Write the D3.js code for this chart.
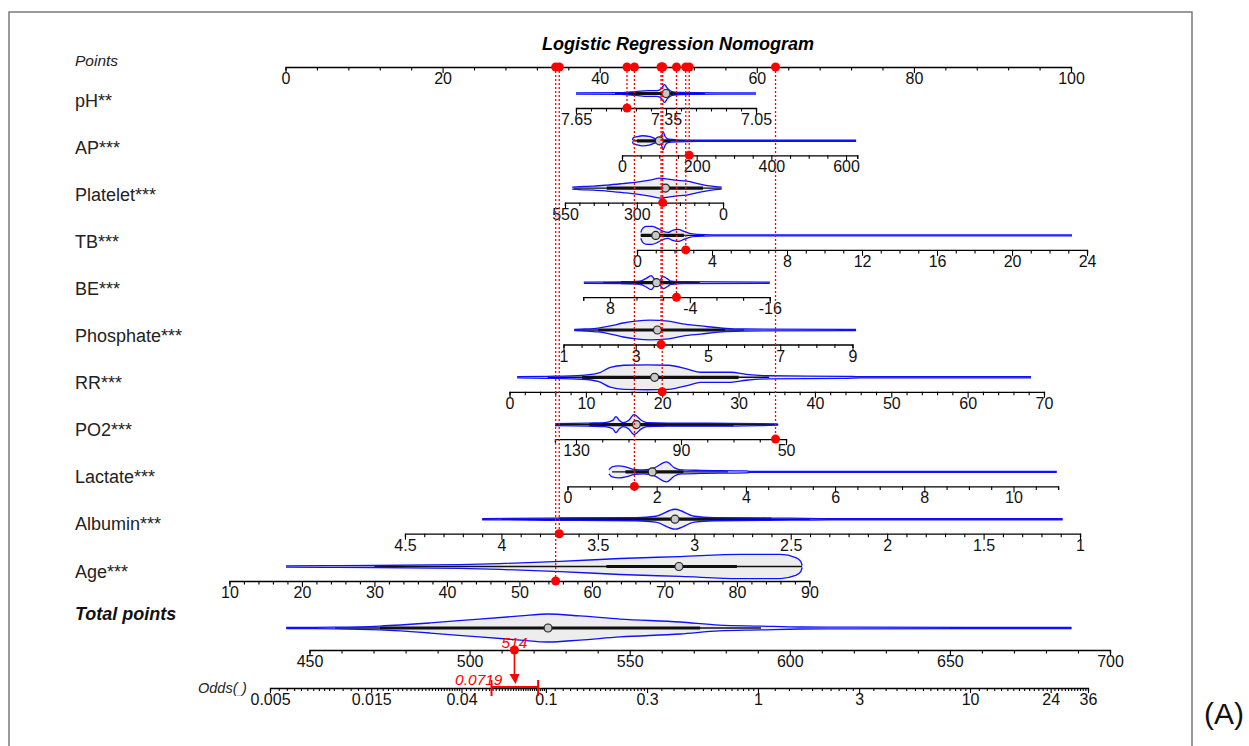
<!DOCTYPE html>
<html>
<head>
<meta charset="utf-8">
<script src="https://cdn.jsdelivr.net/npm/d3@7"></script>
<style>
  body { margin: 0; background: #fff; }
  text { font-family: Arial, "Liberation Sans", sans-serif; }
</style>
</head>
<body>
<svg id="chart" width="1249" height="746"></svg>
<script>
// nomogram model
const variables = ["pH**", "AP***", "Platelet***", "TB***", "BE***", "Phosphate***", "RR***", "PO2***", "Lactate***", "Albumin***", "Age***"];
const axisAnchors = [[7.65, 7.05], [0, 600], [550, 0], [0, 24], [8, -16], [1, 9], [0, 70], [130, 50], [0, 10], [4.5, 1], [10, 90]];
const anchorPoints = [[36.98, 59.90], [42.84, 71.36], [35.58, 55.70], [44.75, 102.04], [41.29, 61.65], [35.39, 72.18], [28.52, 96.56], [36.98, 63.72], [35.90, 92.68], [15.21, 101.15], [-7.14, 66.70]];
const axisDomains = [[7.65, 7.05], [0, 630], [550, 0], [0, 24], [12, -16], [1, 9], [0, 70], [138, 50], [0, 11], [4.5, 1], [10, 90]];
const tickSteps = [0.05, 50, 50, 1, 4, 0.5, 2, 10, 0.5, 0.1, 2];
const tickLabels = [
  [7.65, 7.35, 7.05], [0, 200, 400, 600], [550, 300, 0], [0, 4, 8, 12, 16, 20, 24], [8, -4, -16],
  [1, 3, 5, 7, 9], [0, 10, 20, 30, 40, 50, 60, 70], [130, 90, 50], [0, 2, 4, 6, 8, 10],
  [4.5, 4, 3.5, 3, 2.5, 2, 1.5, 1], [10, 20, 30, 40, 50, 60, 70, 80, 90]
];
const patientValues = [7.48, 180, 210, 2.6, -2, 3.7, 20, 54, 1.5, 3.7, 55];

// violin profiles: [value, relative density]
const violins = [
  [[7.65,.04],[7.50,.06],[7.45,.14],[7.41,.21],[7.38,.21],[7.365,.36],[7.355,.64],[7.345,.36],[7.33,.14],[7.30,.07],[7.25,.06],[7.05,.04]],
  [[28,.04],[30,.21],[40,.29],[55,.36],[75,.29],[92,.14],[105,.29],[110,.64],[116,.29],[125,.11],[150,.07],[200,.04],[627,.04]],
  [[525,.07],[500,.11],[450,.14],[405,.21],[350,.32],[300,.43],[255,.57],[220,.71],[190,.64],[167,.57],[126,.5],[80,.29],[40,.14],[5,.07]],
  [[0.2,.21],[0.3,.5],[0.5,.64],[0.8,.64],[1.1,.5],[1.4,.29],[1.65,.21],[1.9,.36],[2.2,.43],[2.5,.29],[2.8,.14],[3.2,.07],[4,.04],[23.2,.04]],
  [[11.9,.04],[6,.06],[3.5,.11],[2.6,.29],[1.8,.5],[1.2,.21],[0.6,.14],[0,.43],[-0.6,.29],[-1.2,.11],[-3,.07],[-16,.04]],
  [[1.3,.04],[1.6,.07],[1.96,.14],[2.3,.29],[2.65,.5],[3.0,.64],[3.4,.71],[3.9,.64],[4.3,.43],[4.8,.29],[5.5,.11],[6,.07],[9.1,.04]],
  [[1,.04],[5,.07],[9.5,.14],[11.6,.29],[13.2,.71],[15,.86],[18,.89],[20.8,.86],[23.4,.57],[25,.36],[29,.36],[31,.21],[34,.11],[44,.07],[46,.04],[68.3,.04]],
  [[138,.07],[125,.11],[119,.14],[116,.3],[114.8,.57],[113.5,.3],[112,.14],[110,.29],[107.9,.71],[105,.29],[103,.14],[95,.11],[80,.11],[60,.07],[53,.04]],
  [[0.93,.14],[1.0,.36],[1.15,.43],[1.3,.36],[1.5,.18],[1.7,.14],[1.95,.29],[2.22,.71],[2.4,.29],[2.55,.14],[3,.11],[4,.07],[4.1,.04],[10.97,.04]],
  [[4.1,.04],[3.6,.09],[3.3,.11],[3.2,.21],[3.1,.71],[3.0,.21],[2.9,.11],[2.5,.07],[2.3,.04],[1.09,.04]],
  [[17.8,.04],[24,.06],[30,.07],[37.7,.11],[41.8,.14],[47.3,.21],[55.6,.36],[63.9,.57],[72.2,.71],[80.4,.86],[86,.86],[88.1,.64],[88.8,.36],[89,.07]]
];
// [whisker lo, box lo, median, box hi, whisker hi]
const boxStats = [
  [7.52, 7.49, 7.35, 7.27, 7.22], [30, 40, 100, 130, 200], [520, 405, 200, 70, 5], [0.2, 0.2, 1.0, 2.5, 3.6],
  [9, 6.3, 1.0, -2, -5.5], [1.3, 1.96, 3.6, 5.47, 6.0], [5, 9.5, 19, 30, 34], [138, 125, 107, 70, 53],
  [1.0, 1.3, 1.9, 2.6, 3.6], [4.0, 3.7, 3.1, 2.6, 2.4], [30, 62, 72, 80, 89]
];

const totalDomain = [450, 700];
const totalViolin = [[442.7,.04],[458,.06],[472,.14],[487.7,.36],[503,.64],[515.8,.86],[524.5,1],[534.5,.86],[547,.64],[565.8,.43],[578,.21],[590.8,.14],[603,.07],[620,.06],[688,.04]];
const totalBox = [458, 472, 524.5, 572, 591];
const totalPoints = 514;

const oddsDomain = [0.005, 36];
const oddsLabels = [0.005, 0.015, 0.04, 0.1, 0.3, 1, 3, 10, 24, 36];
const oddsTickSteps = [[0.005, 0.01, 0.0005], [0.01, 0.04, 0.001], [0.04, 0.1, 0.002], [0.1, 0.3, 0.01], [0.3, 1, 0.05], [1, 3, 0.2], [3, 10, 0.5], [10, 36, 1]];
const oddsValue = 0.0719;
const oddsCI = [0.0554, 0.0919];

const svg = d3.select("#chart");
const red = "#ff0000", blue = "#1010ff";

svg.append("rect").attr("x", 9).attr("y", 12).attr("width", 1183).attr("height", 760)
  .attr("fill", "none").attr("stroke", "#666").attr("stroke-width", 1.3);

const ptsX = d3.scaleLinear().domain([0, 100]).range([285.5, 1071]);
const density = d3.scaleLinear().domain([0, 1]).range([0, 14]);
const rowY = i => 100 + 47.1 * i;
const axisY = i => 108 + 47.3 * i;
const round = v => +v.toFixed(5);

function makeTicks(dom, step) {
  const lo = Math.min(...dom), hi = Math.max(...dom);
  const t = d3.range(Math.ceil(lo / step - 1e-6), Math.floor(hi / step + 1e-6) + 1).map(k => round(k * step));
  dom.forEach(d => { if (!t.some(v => Math.abs(v - d) < 1e-6)) t.push(d); });
  return t;
}

function drawAxis(scale, ticks, labels, y, fmt, major = 6, minor = 3.5) {
  const isLab = v => labels.some(l => Math.abs(l - v) < 1e-6);
  const g = svg.append("g").attr("transform", `translate(0,${y})`)
    .call(d3.axisBottom(scale).tickValues(ticks).tickSizeOuter(0).tickSize(minor).tickPadding(5)
      .tickFormat(d => isLab(d) ? fmt(d) : ""));
  g.select(".domain").attr("stroke", "#000").attr("stroke-width", 1.3);
  g.selectAll(".tick line").attr("stroke", "#000").attr("stroke-width", 1.1)
    .attr("y2", d => isLab(d) ? major : minor);
  g.selectAll(".tick text").attr("font-size", 16).attr("fill", "#111")
    .attr("font-family", "Arial, 'Liberation Sans', sans-serif").attr("y", 5).attr("dy", "0.75em");
  return g;
}

function drawViolin(xs, profile, box, cy) {
  const pts = profile.map(d => [xs(d[0]), density(d[1])]).sort((a, b) => a[0] - b[0]);
  const area = d3.area().x(d => d[0]).y0(d => cy - d[1]).y1(d => cy + d[1]).curve(d3.curveMonotoneX);
  svg.append("path").attr("d", area(pts)).attr("fill", "#ededed").attr("stroke", "none");
  svg.append("line").attr("x1", xs(box[0])).attr("x2", xs(box[4])).attr("y1", cy).attr("y2", cy)
    .attr("stroke", "#111").attr("stroke-width", 1.4);
  svg.append("line").attr("x1", xs(box[1])).attr("x2", xs(box[3])).attr("y1", cy).attr("y2", cy)
    .attr("stroke", "#111").attr("stroke-width", 3.2);
  const top = d3.line().x(d => d[0]).y(d => cy - d[1]).curve(d3.curveMonotoneX);
  const bot = d3.line().x(d => d[0]).y(d => cy + d[1]).curve(d3.curveMonotoneX);
  svg.append("path").attr("d", top(pts)).attr("fill", "none").attr("stroke", blue).attr("stroke-width", 1.3);
  svg.append("path").attr("d", bot(pts)).attr("fill", "none").attr("stroke", blue).attr("stroke-width", 1.3);
  svg.append("circle").attr("cx", xs(box[2])).attr("cy", cy).attr("r", 4)
    .attr("fill", "#c8c8c8").attr("stroke", "#222").attr("stroke-width", 1.2);
}

// title and points axis
svg.append("text").attr("x", 678).attr("y", 49.5).attr("text-anchor", "middle")
  .attr("font-size", 18).attr("font-weight", "bold").attr("font-style", "italic")
  .text("Logistic Regression Nomogram");
svg.append("text").attr("x", 75).attr("y", 65.5).attr("font-size", 15.5).attr("font-style", "italic")
  .attr("fill", "#222").text("Points");
const ptsAxisY = 67;
drawAxis(ptsX, d3.range(0, 101, 4), d3.range(0, 101, 20), ptsAxisY, d3.format("d"));

// variable rows
const scales = variables.map((name, i) => {
  const toPts = d3.scaleLinear().domain(axisAnchors[i]).range(anchorPoints[i]);
  return d3.scaleLinear().domain(axisDomains[i]).range(axisDomains[i].map(v => ptsX(toPts(v))));
});

variables.forEach((name, i) => {
  svg.append("text").attr("x", 75).attr("y", rowY(i) + 6.5).attr("font-size", 18).attr("fill", "#222").text(name);
  drawViolin(scales[i], violins[i], boxStats[i], axisY(i) - 14.5);
  drawAxis(scales[i], makeTicks(axisDomains[i], tickSteps[i]), tickLabels[i], axisY(i), d => String(round(d)));
});

// total points
const totalX = d3.scaleLinear().domain(totalDomain).range([309.5, 1110]);
const totalAxisY = 650;
svg.append("text").attr("x", 75).attr("y", 619.5).attr("font-size", 18).attr("font-weight", "bold")
  .attr("font-style", "italic").attr("fill", "#111").text("Total points");
drawViolin(totalX, totalViolin, totalBox, 628);
drawAxis(totalX, makeTicks(totalDomain, 10), d3.range(450, 701, 50), totalAxisY, d3.format("d"));

// odds axis
const oddsX = d3.scaleLog().domain(oddsDomain).range([270, 1088]);
const oddsAxisY = 688;
let oddsTicks = [];
oddsTickSteps.forEach(([a, b, s]) => {
  const n = Math.round((b - a) / s);
  for (let k = 0; k <= n; k++) oddsTicks.push(round(a + k * s));
});
oddsTicks = Array.from(new Set(oddsTicks));
drawAxis(oddsX, oddsTicks, oddsLabels, oddsAxisY, d => String(round(d)), 5, 3);
const oddsLab = svg.append("text").attr("x", 198).attr("y", 693).attr("font-size", 14.5)
  .attr("font-style", "italic").attr("fill", "#222");
oddsLab.append("tspan").text("Odds(");
oddsLab.append("tspan").attr("font-size", 8).attr("dy", 2).text("_");
oddsLab.append("tspan").attr("dy", -2).text(")");

// patient readings
const dot = (x, y) => svg.append("circle").attr("cx", x).attr("cy", y).attr("r", 4.5).attr("fill", red);
variables.forEach((name, i) => {
  const x = scales[i](patientValues[i]);
  svg.append("line").attr("x1", x).attr("x2", x).attr("y1", ptsAxisY).attr("y2", axisY(i))
    .attr("stroke", red).attr("stroke-width", 1.3).attr("stroke-dasharray", "2,2");
});
variables.forEach((name, i) => {
  const x = scales[i](patientValues[i]);
  dot(x, ptsAxisY);
  dot(x, axisY(i));
});

const tx = totalX(totalPoints);
dot(tx, totalAxisY);
svg.append("text").attr("x", tx).attr("y", 648).attr("text-anchor", "middle").attr("font-size", 15.5)
  .attr("font-style", "italic").attr("fill", red).text(totalPoints);
svg.append("line").attr("x1", tx).attr("x2", tx).attr("y1", totalAxisY).attr("y2", 676)
  .attr("stroke", red).attr("stroke-width", 1.6);
svg.append("path").attr("d", d3.line()([[tx - 5, 674], [tx + 5, 674], [oddsX(oddsValue), 684]]))
  .attr("fill", red);
const ciY = 687;
svg.append("line").attr("x1", oddsX(oddsCI[0])).attr("x2", oddsX(oddsCI[1])).attr("y1", ciY).attr("y2", ciY)
  .attr("stroke", red).attr("stroke-width", 2);
oddsCI.forEach(v => svg.append("line").attr("x1", oddsX(v)).attr("x2", oddsX(v)).attr("y1", 680).attr("y2", 696)
  .attr("stroke", red).attr("stroke-width", 2));
svg.append("text").attr("x", oddsX(oddsCI[0]) + 11).attr("y", 685).attr("text-anchor", "end").attr("font-size", 15.5)
  .attr("font-style", "italic").attr("fill", red).text(oddsValue);

svg.append("text").attr("x", 1204).attr("y", 724).attr("font-size", 30).attr("fill", "#111").text("(A)");
</script>
</body>
</html>
